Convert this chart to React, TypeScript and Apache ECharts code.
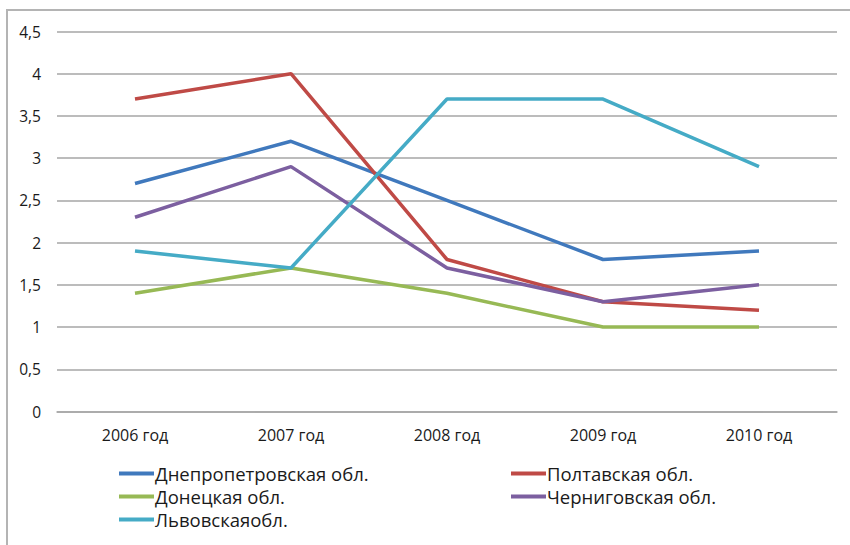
import React, { useEffect, useRef } from "react";
import * as echarts from "echarts";

const categories = ["2006 год", "2007 год", "2008 год", "2009 год", "2010 год"];
const seriesNames = [
  "Днепропетровская обл.",
  "Полтавская обл.",
  "Донецкая обл.",
  "Черниговская обл.",
  "Львовскаяобл.",
];
const dnepr = [2.7, 3.2, 2.5, 1.8, 1.9];
const poltava = [3.7, 4.0, 1.8, 1.3, 1.2];
const donetsk = [1.4, 1.7, 1.4, 1.0, 1.0];
const chernigov = [2.3, 2.9, 1.7, 1.3, 1.5];
const lviv = [1.9, 1.7, 3.7, 3.7, 2.9];
const colors = ["#4079BD", "#BF4A46", "#97B955", "#7C5FA0", "#45ABC6"];

export default function App() {
  const ref = useRef<HTMLDivElement>(null);
  useEffect(() => {
    if (!ref.current) return;
    const chart = echarts.init(ref.current, null, { renderer: "svg" });
    const font = "'Open Sans', 'Noto Sans', sans-serif";
    const values = [dnepr, poltava, donetsk, chernigov, lviv];
    const legendText = { fontSize: 18.5, color: "#1a1a1a", fontFamily: font, padding: [0, 0, 0, -4] };
    chart.setOption({
      animation: false,
      textStyle: { fontFamily: font },
      graphic: [
        {
          type: "rect",
          shape: { x: 7, y: 10, width: 860, height: 560 },
          style: { fill: "none", stroke: "#B4B4B4", lineWidth: 2 },
          silent: true,
        },
      ],
      grid: { left: 57, right: 13, top: 31.5, bottom: 133.5 },
      xAxis: {
        type: "category",
        data: categories,
        boundaryGap: true,
        axisLine: { lineStyle: { color: "#A6A6A6", width: 1.5 } },
        axisTick: { show: false },
        axisLabel: { color: "#1a1a1a", fontSize: 16, margin: 15, fontFamily: font },
      },
      yAxis: {
        type: "value",
        min: 0,
        max: 4.5,
        interval: 0.5,
        axisLine: { show: false },
        axisTick: { show: false },
        splitLine: { lineStyle: { color: "#A6A6A6", width: 1.5 } },
        axisLabel: {
          color: "#1a1a1a",
          fontSize: 15.5,
          margin: 16,
          fontFamily: font,
          formatter: (v: number) => String(v).replace(".", ","),
        },
      },
      legend: [
        {
          left: 114,
          top: 459,
          orient: "vertical",
          itemGap: 4,
          itemWidth: 35,
          itemHeight: 4,
          icon: "rect",
          data: [seriesNames[0], seriesNames[2], seriesNames[4]],
          textStyle: legendText,
        },
        {
          left: 506,
          top: 459,
          orient: "vertical",
          itemGap: 4,
          itemWidth: 35,
          itemHeight: 4,
          icon: "rect",
          data: [seriesNames[1], seriesNames[3]],
          textStyle: legendText,
        },
      ],
      series: seriesNames.map((name, i) => ({
        name,
        type: "line",
        data: values[i],
        symbol: "none",
        color: colors[i],
        lineStyle: { width: 3.5, color: colors[i] },
      })),
    });
    return () => chart.dispose();
  }, []);
  return (
    <div
      ref={ref}
      style={{ position: "absolute", left: 0, top: 0, width: 850, height: 545 }}
    />
  );
}
